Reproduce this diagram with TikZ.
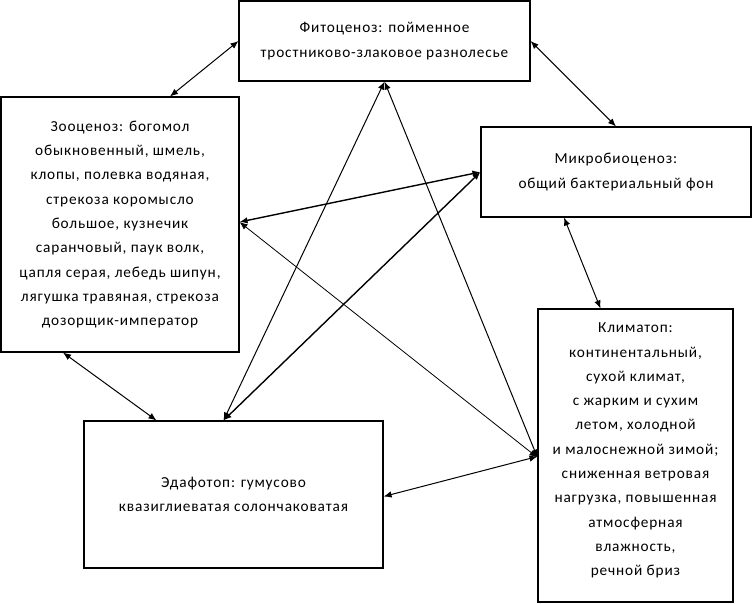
\documentclass[tikz,border=0pt]{standalone}
\usepackage{fontspec}
\setmainfont{Carlito}[LetterSpace=5.5]
\usetikzlibrary{arrows.meta}
\begin{document}
\begin{tikzpicture}[x=1pt,y=-1pt,
  box/.style={draw,line width=1.1pt,rectangle,inner sep=0pt,align=center,
    font=\fontsize{15.3}{24.3}\selectfont},
  link/.style={line width=1pt,{Latex[length=8pt,width=6.5pt]}-{Latex[length=8pt,width=6.5pt]}},
  thick link/.style={link,line width=1.4pt},
  thin link/.style={link,line width=0.8pt}]
\useasboundingbox (0,0) rectangle (752,603);
\node[box,minimum width=291pt,minimum height=80pt] (phyto) at (384.5,41)
  {Фитоценоз: пойменное\\тростниково-злаковое разнолесье};
\node[box,minimum width=238pt,minimum height=255pt] (zoo) at (120,224.5)
  {Зооценоз: богомол\\обыкновенный, шмель,\\клопы, полевка водяная,\\стрекоза коромысло\\большое, кузнечик\\саранчовый, паук волк,\\цапля серая, лебедь шипун,\\лягушка травяная, стрекоза\\дозорщик-император};
\node[box,minimum width=270pt,minimum height=90pt] (micro) at (616,172)
  {Микробиоценоз:\\общий бактериальный фон};
\node[box,minimum width=299pt,minimum height=147pt] (edafo) at (233.5,494.5)
  {Эдафотоп: гумусово\\квазиглиеватая солончаковатая};
\node[box,minimum width=195pt,minimum height=293pt] (klimat) at (635.5,455.5)
  {Климатоп:\\континентальный,\\сухой климат,\\с жарким и сухим\\летом, холодной\\и малоснежной зимой;\\сниженная ветровая\\нагрузка, повышенная\\атмосферная\\влажность,\\речной бриз\\[-12pt]};
\draw[link] (phyto.west) -- ([xshift=50pt]zoo.north);
\draw[link] (phyto.east) -- (micro.north);
\draw[link] ([xshift=-52pt]micro.south) -- ([xshift=-35pt]klimat.north);
\draw[thick link] ([yshift=2.5pt]zoo.east) -- (micro.west);
\draw[thin link] ([yshift=2.5pt]zoo.east) -- ([yshift=-2pt]klimat.west);
\draw[link] (phyto.south) -- ([yshift=-2pt]klimat.west);
\draw[link] (phyto.south) -- ([xshift=-10pt]edafo.north);
\draw[thick link] ([xshift=-10pt]edafo.north) -- (micro.west);
\draw[link] ([xshift=-57pt]zoo.south) -- ([xshift=-77pt]edafo.north);
\draw[link] ([yshift=-2pt]edafo.east) -- ([yshift=-1pt]klimat.west);
\end{tikzpicture}
\end{document}
